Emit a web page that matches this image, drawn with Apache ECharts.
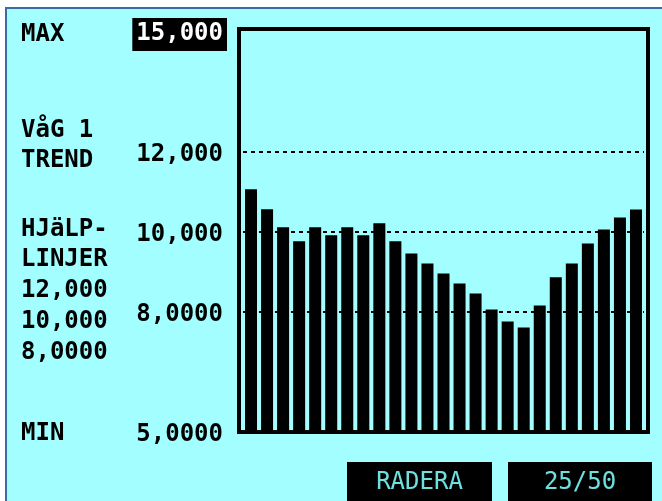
<!DOCTYPE html>
<html>
<head>
<meta charset="utf-8">
<script src="https://cdn.jsdelivr.net/npm/echarts@6/dist/echarts.min.js"></script>
<style>
  html, body { margin: 0; padding: 0; background: #fff; }
  #main { width: 662px; height: 501px; }
</style>
</head>
<body>
<div id="main"></div>
<script>
// bar values, one per sample (25 of 50)
var categories = [];
for (var i = 1; i <= 25; i++) categories.push(String(i));
var values = [11070, 10570, 10120, 9770, 10120, 9920, 10120, 9920, 10220, 9770,
              9460, 9210, 8960, 8710, 8460, 8060, 7760, 7610, 8160, 8870,
              9210, 9710, 10060, 10360, 10560];

// axis tick labels (written as on the device)
var tickValues = [5000, 8000, 10000, 12000, 15000];
var tickLabels = ['5,0000', '8,0000', '10,000', '12,000', '15,000'];

// help lines
var helpLines = [12000, 10000, 8000];

var font = 'bold 24px "DejaVu Sans Mono"';
var ink = '#000';

var myChart = echarts.init(document.getElementById('main'));

function sideText(txt, y) {
  return {
    type: 'text', left: 21, top: y - 10,
    style: { text: txt, font: font, fill: ink }
  };
}

function button(x, w, txt) {
  return [
    { type: 'rect', shape: { x: x, y: 462, width: w, height: 39 }, style: { fill: '#000' } },
    { type: 'text', x: x + w / 2, y: 483,
      style: { text: txt, font: '24px "DejaVu Sans Mono"', fill: '#6fe0e0',
               align: 'center', verticalAlign: 'middle' } }
  ];
}

var graphics = [
  { type: 'rect', shape: { x: 0, y: 0, width: 662, height: 7 }, style: { fill: '#fff' } },
  { type: 'rect', shape: { x: 0, y: 0, width: 5, height: 501 }, style: { fill: '#fff' } },
  { type: 'rect', shape: { x: 5, y: 7, width: 657, height: 2 }, style: { fill: '#3a6aa8' } },
  { type: 'rect', shape: { x: 5, y: 7, width: 2, height: 494 }, style: { fill: '#3a6aa8' } },
  sideText('MAX', 33),
  sideText('VåG 1', 129),
  sideText('TREND', 159),
  sideText('HJäLP-', 228),
  sideText('LINJER', 258)
];
helpLines.forEach(function (v, k) {
  graphics.push(sideText(tickLabels[tickValues.indexOf(v)], 289 + k * 31));
});
graphics.push(sideText('MIN', 432));
graphics = graphics.concat(button(347, 145, 'RADERA'), button(508, 144, '25/50'));

var labelStyle = { fontFamily: 'DejaVu Sans Mono', fontWeight: 'bold', fontSize: 24 };

option = {
  backgroundColor: '#a3ffff',
  animation: false,
  graphic: graphics,
  grid: [
    { left: 239, right: 14, top: 29, bottom: 69, show: true,
      borderColor: '#000', borderWidth: 4, backgroundColor: 'transparent' },
    { left: 243, right: 18, top: 29, bottom: 69 }
  ],
  xAxis: [
    { gridIndex: 0, type: 'category', data: categories, show: false },
    { gridIndex: 1, type: 'category', data: categories, show: false }
  ],
  yAxis: [
    {
      gridIndex: 0, type: 'value', min: 5000, max: 15075, interval: 1000,
      axisLine: { show: false }, axisTick: { show: false }, splitLine: { show: false },
      axisLabel: {
        margin: 12,
        formatter: function (v) {
          var k = tickValues.indexOf(v);
          if (k < 0) return '';
          if (v === 15000) return '{g| }\n{m|' + tickLabels[k] + '}';
          return '{v|' + tickLabels[k] + '}';
        },
        rich: {
          g: { fontSize: 1, lineHeight: 5 },
          m: Object.assign({ color: '#fff', backgroundColor: '#000', padding: [4, 4, 5, 4] }, labelStyle),
          v: Object.assign({ color: ink, padding: [6, 4, 0, 0] }, labelStyle)
        }
      }
    },
    { gridIndex: 1, type: 'value', min: 5000, max: 15075, show: false, splitLine: { show: false } }
  ],
  series: [{
    type: 'bar',
    xAxisIndex: 1,
    yAxisIndex: 1,
    data: values,
    barWidth: 12,
    clip: true,
    itemStyle: { color: '#000' },
    markLine: {
      silent: true,
      symbol: ['none', 'none'],
      label: { show: false },
      lineStyle: { color: '#000', type: [4, 4], width: 2 },
      data: helpLines.map(function (v) { return { yAxis: v }; })
    }
  }]
};

myChart.setOption(option);
</script>
</body>
</html>
